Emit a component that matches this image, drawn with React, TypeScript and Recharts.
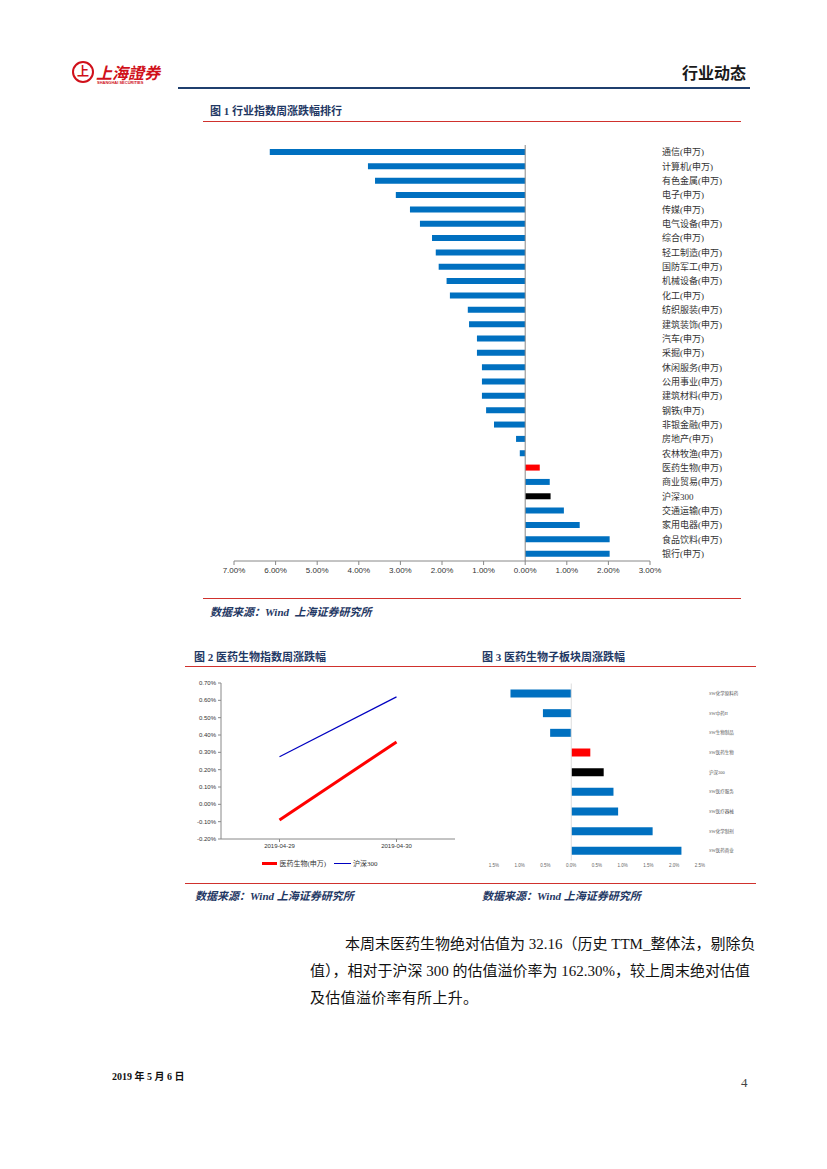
import { BarChart, Bar, XAxis, YAxis, Cell, ReferenceLine, LineChart, Line, Legend } from 'recharts';

// 图1 行业指数周涨跌幅排行 (%)
const industries = [
  "通信(申万)", "计算机(申万)", "有色金属(申万)", "电子(申万)", "传媒(申万)", "电气设备(申万)", "综合(申万)",
  "轻工制造(申万)", "国防军工(申万)", "机械设备(申万)", "化工(申万)", "纺织服装(申万)", "建筑装饰(申万)",
  "汽车(申万)", "采掘(申万)", "休闲服务(申万)", "公用事业(申万)", "建筑材料(申万)", "钢铁(申万)",
  "非银金融(申万)", "房地产(申万)", "农林牧渔(申万)", "医药生物(申万)", "商业贸易(申万)", "沪深300",
  "交通运输(申万)", "家用电器(申万)", "食品饮料(申万)", "银行(申万)"
];
const industryChanges = [
  -6.14, -3.78, -3.61, -3.11, -2.77, -2.53, -2.24, -2.15, -2.08, -1.89, -1.81, -1.38, -1.35,
  -1.16, -1.16, -1.04, -1.04, -1.04, -0.94, -0.75, -0.22, -0.13, 0.35, 0.59, 0.61,
  0.93, 1.31, 2.03, 2.03
];
const industryTicks = [-7, -6, -5, -4, -3, -2, -1, 0, 1, 2, 3];

// 图2 医药生物指数周涨跌幅 (%)
const trendDates = ["2019-04-29", "2019-04-30"];
const pharmaTrend = [-0.09, 0.36];
const hs300Trend = [0.275, 0.62];
const trendTicks = [-0.2, -0.1, 0, 0.1, 0.2, 0.3, 0.4, 0.5, 0.6, 0.7];

// 图3 医药生物子板块周涨跌幅 (%)
const subSectors = ["SW化学原料药", "SW中药II", "SW生物制品", "SW医药生物", "沪深300", "SW医疗服务", "SW医疗器械", "SW化学制剂", "SW医药商业"];
const subSectorChanges = [-1.18, -0.55, -0.41, 0.37, 0.63, 0.82, 0.91, 1.58, 2.14];
const subTicks = [-1.5, -1, -0.5, 0, 0.5, 1, 1.5, 2, 2.5];

const BLUE = "#0070C0";
const NAVY = "#1F3864";
const RED_RULE = "#D0312D";
const CJK = "'Liberation Serif', 'Noto Sans CJK SC', serif";
const SANS = "'Liberation Sans', 'Noto Sans CJK SC', sans-serif";

const industryData = industries.map((name, i) => ({ name, value: industryChanges[i] }));
const trendData = trendDates.map((d, i) => ({ date: d, pharma: pharmaTrend[i], hs300: hs300Trend[i] }));
const subData = subSectors.map((name, i) => ({ name, value: subSectorChanges[i] }));

function barColor(name: string) {
  if (name.startsWith("医药生物") || name === "SW医药生物") return "#FF0000";
  if (name === "沪深300") return "#000000";
  return BLUE;
}

const abs2 = (v: number) => Math.abs(v).toFixed(2) + "%";
const abs1 = (v: number) => Math.abs(v).toFixed(1) + "%";

function rule(top: number, left: number, right: number, color = RED_RULE, h = 1) {
  return <div style={{ position: 'absolute', top, left, width: right - left, height: h, background: color }} />;
}

function TrendLegend() {
  return (
    <div style={{ display: 'flex', justifyContent: 'center', alignItems: 'center', paddingTop: 5, fontSize: 7, fontFamily: CJK, color: '#333' }}>
      <span style={{ display: 'inline-block', width: 15, height: 3, background: '#FF0000', marginRight: 2 }} />
      <span style={{ marginRight: 8 }}>医药生物(申万)</span>
      <span style={{ display: 'inline-block', width: 17, height: 1, background: '#0000C0', marginRight: 2 }} />
      <span>沪深300</span>
    </div>
  );
}

export default function App() {
  return (
    <div style={{ position: 'absolute', left: 0, top: 0, width: 827, height: 1169, background: '#fff', fontFamily: CJK, overflow: 'hidden' }}>
      {/* header */}
      <div style={{ position: 'absolute', left: 72, top: 61, width: 22, height: 22, borderRadius: 11, border: '2px solid #D0101A', boxSizing: 'border-box', color: '#D0101A', fontSize: 12, fontWeight: 700, textAlign: 'center', lineHeight: '18px' }}>上</div>
      <div style={{ position: 'absolute', left: 96, top: 60, color: '#D0101A', fontSize: 16, fontWeight: 700, letterSpacing: 0, fontStyle: 'italic' }}>上海證券</div>
      <div style={{ position: 'absolute', left: 97, top: 80, color: '#D0101A', fontSize: 4, fontWeight: 700, fontFamily: SANS }}>SHANGHAI SECURITIES</div>
      <div style={{ position: 'absolute', left: 682, top: 60, color: '#1a1a1a', fontSize: 16, fontWeight: 700 }}>行业动态</div>
      {rule(87, 178, 750, '#1F3F6E', 2)}

      {/* figure 1 */}
      <div style={{ position: 'absolute', left: 210, top: 102, color: NAVY, fontSize: 11, fontWeight: 700 }}>图 1 行业指数周涨跌幅排行</div>
      {rule(121, 203, 741)}
      <div style={{ position: 'absolute', left: 200, top: 140 }}>
        <BarChart width={560} height={450} data={industryData} layout="vertical" margin={{ top: 5, right: 10, bottom: 4, left: 34 }}>
          <XAxis type="number" domain={[-7, 3]} ticks={industryTicks} tickFormatter={abs2} interval={0}
            stroke="#888" tickSize={4} tickMargin={2} height={25}
            tick={{ fontSize: 8, fill: '#333', fontFamily: SANS }} />
          <YAxis type="category" dataKey="name" orientation="right" width={100} axisLine={false} tickLine={false}
            tickMargin={6} interval={0} tick={{ fontSize: 9, fill: '#333', fontFamily: CJK }} />
          <ReferenceLine x={0} stroke="#888" />
          <Bar dataKey="value" barSize={6} isAnimationActive={false}>
            {industryData.map((d, i) => <Cell key={`c-${i}`} fill={barColor(d.name)} />)}
          </Bar>
        </BarChart>
      </div>
      {rule(598, 203, 741)}
      <div style={{ position: 'absolute', left: 210, top: 603, color: NAVY, fontSize: 11, fontWeight: 700, fontStyle: 'italic' }}>数据来源：Wind&nbsp; 上海证券研究所</div>

      {/* figure 2 & 3 titles */}
      <div style={{ position: 'absolute', left: 194, top: 648, color: NAVY, fontSize: 11, fontWeight: 700 }}>图 2 医药生物指数周涨跌幅</div>
      <div style={{ position: 'absolute', left: 482, top: 648, color: NAVY, fontSize: 11, fontWeight: 700 }}>图 3 医药生物子板块周涨跌幅</div>
      {rule(666, 185, 756)}

      <div style={{ position: 'absolute', left: 185, top: 675 }}>
        <LineChart width={275} height={200} data={trendData} margin={{ top: 8, right: 5, bottom: 2, left: 0 }}>
          <XAxis dataKey="date" scale="band" stroke="#888" tickSize={3} tickMargin={2} height={14}
            tick={{ fontSize: 6, fill: '#333', fontFamily: SANS }} />
          <YAxis type="number" domain={[-0.2, 0.7]} ticks={trendTicks} interval={0} width={36}
            tickFormatter={(v: number) => v.toFixed(2) + "%"} stroke="#888" tickSize={3} tickMargin={2}
            tick={{ fontSize: 6, fill: '#333', fontFamily: SANS }} />
          <Legend verticalAlign="bottom" height={20} content={() => <TrendLegend />} />
          <Line dataKey="pharma" stroke="#FF0000" strokeWidth={3} dot={false} isAnimationActive={false} />
          <Line dataKey="hs300" stroke="#0000C0" strokeWidth={1.2} dot={false} isAnimationActive={false} />
        </LineChart>
      </div>

      <div style={{ position: 'absolute', left: 480, top: 678 }}>
        <BarChart width={275} height={195} data={subData} layout="vertical" margin={{ top: 5.5, right: 5, bottom: 2.5, left: 14 }}>
          <XAxis type="number" domain={[-1.5, 2.5]} ticks={subTicks} interval={0} tickFormatter={abs1}
            axisLine={false} tickLine={false} height={10} tickMargin={-3}
            tick={{ fontSize: 4.5, fill: '#666', fontFamily: SANS }} />
          <YAxis type="category" dataKey="name" orientation="right" width={50} axisLine={false} tickLine={false}
            tickMargin={3} interval={0} tick={{ fontSize: 4.5, fill: '#555', fontFamily: CJK }} />
          <ReferenceLine x={0} stroke="#ddd" />
          <Bar dataKey="value" barSize={8} isAnimationActive={false}>
            {subData.map((d, i) => <Cell key={`s-${i}`} fill={barColor(d.name)} />)}
          </Bar>
        </BarChart>
      </div>
      {rule(883, 185, 756)}
      <div style={{ position: 'absolute', left: 195, top: 887, color: NAVY, fontSize: 11, fontWeight: 700, fontStyle: 'italic' }}>数据来源：Wind 上海证券研究所</div>
      <div style={{ position: 'absolute', left: 482, top: 887, color: NAVY, fontSize: 11, fontWeight: 700, fontStyle: 'italic' }}>数据来源：Wind 上海证券研究所</div>

      {/* paragraph */}
      <div style={{ position: 'absolute', left: 345, top: 932, width: 400, fontSize: 15, color: '#111', textAlign: 'justify', textAlignLast: 'justify', whiteSpace: 'nowrap' }}>本周末医药生物绝对估值为 32.16（历史 TTM_整体法，剔除负</div>
      <div style={{ position: 'absolute', left: 310, top: 959, width: 435, fontSize: 15, color: '#111', textAlign: 'justify', textAlignLast: 'justify', whiteSpace: 'nowrap' }}>值），相对于沪深 300 的估值溢价率为 162.30%，较上周末绝对估值</div>
      <div style={{ position: 'absolute', left: 310, top: 986, fontSize: 15, color: '#111', letterSpacing: 0.3 }}>及估值溢价率有所上升。</div>

      {/* footer */}
      <div style={{ position: 'absolute', left: 112, top: 1068, fontSize: 10, fontWeight: 700, color: '#111' }}>2019 年 5 月 6 日</div>
      <div style={{ position: 'absolute', left: 741, top: 1075, fontSize: 13, color: '#444' }}>4</div>
    </div>
  );
}
